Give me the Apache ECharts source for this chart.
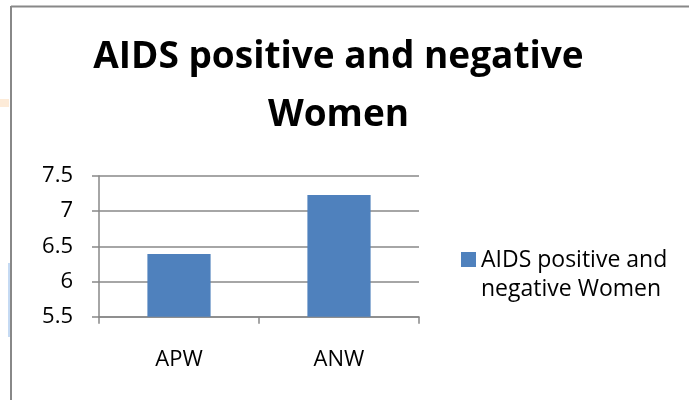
<!DOCTYPE html>
<html>
<head>
<meta charset="utf-8">
<script src="https://cdn.jsdelivr.net/npm/echarts@6/dist/echarts.min.js"></script>
<style>
html,body{margin:0;padding:0;background:#fff;}
#chart{width:689px;height:400px;}
</style>
</head>
<body>
<div id="chart"></div>
<script>
const categories = ['APW', 'ANW'];
const seriesName = 'AIDS positive and negative Women';
const values = [6.39, 7.23];
const yTicks = { min: 5.5, max: 7.5, interval: 0.5 };

const chart = echarts.init(document.getElementById('chart'), null, { renderer: 'canvas' });
const font = 'Open Sans';
chart.setOption({
  animation: false,
  backgroundColor: '#fff',
  title: {
    text: 'AIDS positive and negative\nWomen',
    left: 338.5,
    top: 28.5,
    textAlign: 'center',
    textVerticalAlign: 'top',
    padding: 0,
    textStyle: { fontFamily: font, fontWeight: 'bold', fontSize: 37, lineHeight: 58, color: '#000' }
  },
  legend: {
    left: 461,
    top: 245.5,
    padding: 0,
    orient: 'vertical',
    itemWidth: 15,
    itemHeight: 45,
    icon: 'path://M0,0L15,0L15,15L0,15Z M0,45L0,45',
    formatter: function () { return 'AIDS positive and\nnegative Women'; },
    textStyle: { fontFamily: font, fontSize: 23, lineHeight: 29, color: '#000' },
    data: [seriesName]
  },
  grid: { left: 99, right: 270, top: 176, bottom: 83.3, containLabel: false },
  xAxis: {
    type: 'category',
    data: categories,
    axisLine: { lineStyle: { color: '#888', width: 1.5 } },
    axisTick: { show: true, length: 7, lineStyle: { color: '#888', width: 1.5 } },
    axisLabel: { fontFamily: font, fontSize: 22, color: '#000', margin: 32 }
  },
  yAxis: {
    type: 'value',
    min: yTicks.min,
    max: yTicks.max,
    interval: yTicks.interval,
    axisLine: { show: true, lineStyle: { color: '#888', width: 1.5 } },
    axisTick: { show: true, inside: false, length: 7, lineStyle: { color: '#888', width: 1.5 } },
    axisLabel: { fontFamily: font, fontSize: 22, color: '#000', margin: 26 },
    splitLine: { lineStyle: { color: '#888', width: 1.5 } }
  },
  series: [{
    name: seriesName,
    type: 'bar',
    data: values,
    barWidth: '39.5%',
    itemStyle: { color: '#4f81bd' }
  }],
  graphic: [
    { type: 'rect', shape: { x: 0, y: 99, width: 9, height: 8 }, style: { fill: '#fdebd8' }, silent: true },
    { type: 'rect', shape: { x: 8, y: 263, width: 2, height: 74 }, style: { fill: '#c5daf3' }, silent: true },
    { type: 'line', shape: { x1: 11, y1: 6.5, x2: 689, y2: 6.5 }, style: { stroke: '#888', lineWidth: 2 }, silent: true },
    { type: 'line', shape: { x1: 11, y1: 6, x2: 11, y2: 400 }, style: { stroke: '#888', lineWidth: 2 }, silent: true }
  ]
});
</script>
</body>
</html>
